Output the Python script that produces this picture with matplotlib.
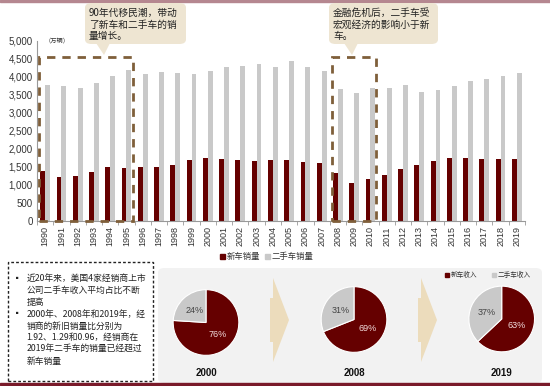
import matplotlib
matplotlib.use("Agg")
import matplotlib.pyplot as plt
import numpy as np
from matplotlib.patches import Rectangle, FancyBboxPatch, Polygon

plt.rcParams['font.family'] = ['Noto Sans CJK SC', 'DejaVu Sans']

years = [str(y) for y in range(1990, 2020)]
new_cars = [1390, 1222, 1233, 1344, 1483, 1455, 1483, 1500, 1547, 1686,
            1733, 1714, 1677, 1658, 1677, 1695, 1639, 1611, 1325, 1047,
            1150, 1269, 1445, 1556, 1649, 1742, 1750, 1714, 1722, 1705]
used_cars = [3761, 3733, 3694, 3816, 4019, 4186, 4083, 4130, 4094, 4075,
             4167, 4269, 4306, 4361, 4260, 4427, 4269, 4158, 3658, 3556,
             3694, 3694, 3769, 3583, 3630, 3733, 3872, 3927, 4028, 4094]
yticks = [0, 500, 1000, 1500, 2000, 2500, 3000, 3500, 4000, 4500, 5000]

pie_years = ['2000', '2008', '2019']
pie_new = [76, 69, 63]
pie_used = [24, 31, 37]

RED = '#650000'
GREY = '#c9c9c9'
BROWN = '#7f5f3a'
BEIGE = '#eee5d2'

W, H = 550, 386
fig = plt.figure(figsize=(W / 100, H / 100), dpi=100)


def fx(x):
    return x / W


def fy(y):
    return 1 - y / H


# main bar chart
ax = fig.add_axes([fx(37), fy(220.7), (525 - 37) / W, (220.7 - 40.7) / H])
x = np.arange(len(years))
ax.bar(x - 0.15, new_cars, width=0.3, color=RED, zorder=2)
ax.bar(x + 0.15, used_cars, width=0.3, color=GREY, zorder=2)
ax.set_xlim(-0.5, len(years) - 0.5)
ax.set_ylim(0, 5000)
ax.set_yticks(yticks)
ax.set_yticklabels([f'{v:,}' for v in yticks], family='Liberation Sans',
                   fontsize=7, color='#333333')
ax.set_xticks(x)
ax.set_xticklabels(years, rotation=90, family='Liberation Sans', fontsize=6.5,
                   color='#333333')
ax.set_xticks(np.arange(-0.5, len(years), 1), minor=True)
ax.tick_params(axis='x', which='major', length=0, pad=4)
ax.tick_params(axis='x', which='minor', length=3, color='#999999')
ax.tick_params(axis='y', length=0, pad=3)
for s in ['top', 'right']:
    ax.spines[s].set_visible(False)
ax.spines['left'].set_color('#999999')
ax.spines['bottom'].set_color('#999999')

# dashed highlight boxes
for x0, x1 in [(-0.36, 5.42), (17.61, 20.32)]:
    ax.add_patch(Rectangle((x0, 0), x1 - x0, 4556, fill=False, edgecolor=BROWN,
                           linewidth=2, linestyle=(0, (3, 2.5)), clip_on=False, zorder=3))

fig.text(fx(45), fy(41), '（万辆）', fontsize=4.5, color='#333333', va='center')

# callouts
def callout(x0, x1, y0, y1, tip, lines):
    fig.add_artist(FancyBboxPatch((fx(x0), fy(y1)), fx(x1) - fx(x0), fy(y0) - fy(y1),
                                  boxstyle='round,pad=0,rounding_size=0.012',
                                  transform=fig.transFigure, facecolor=BEIGE,
                                  edgecolor='none', zorder=5))
    tx, ty = tip
    fig.add_artist(Polygon([(fx(tx - 8), fy(y1 - 1)), (fx(tx + 6), fy(y1 - 1)), (fx(tx), fy(ty))],
                           closed=True, transform=fig.transFigure, facecolor=BEIGE,
                           edgecolor='none', zorder=5))
    for i, line in enumerate(lines):
        fig.text(fx(x0 + 4), fy(12.5 + 12 * i), line, fontsize=7, color='#222222',
                 va='center', zorder=6)


callout(85, 186, 3, 44, (104, 55),
        ['90年代移民潮，带动', '了新车和二手车的销', '量增长。'])
callout(329, 438, 3, 44, (352, 55),
        ['金融危机后，二手车受', '宏观经济的影响小于新', '车。'])

# bar legend
fig.add_artist(Rectangle((fx(220), fy(258.5)), 5 / W, 5 / H, color=RED,
                         transform=fig.transFigure))
fig.text(fx(227), fy(256), '新车销量', fontsize=6, va='center', color='#333333')
fig.add_artist(Rectangle((fx(265), fy(258.5)), 5 / W, 5 / H, color=GREY,
                         transform=fig.transFigure))
fig.text(fx(272), fy(256), '二手车销量', fontsize=6, va='center', color='#333333')

# bottom-left note box
fig.add_artist(Rectangle((fx(8.3), fy(380.7)), (153.3 - 8.3) / W, (380.7 - 261.7) / H,
                         fill=False, edgecolor='#222222', linewidth=1,
                         linestyle=(0, (2, 1.5)), transform=fig.transFigure))
note_lines = [
    (True, '近20年来，美国4家经销商上市'),
    (False, '公司二手车收入平均占比不断'),
    (False, '提高'),
    (True, '2000年、2008年和2019年，经'),
    (False, '销商的新旧销量比分别为'),
    (False, '1.92、1.29和0.96，经销商在'),
    (False, '2019年二手车的销量已经超过'),
    (False, '新车销量'),
]
for i, (bullet, line) in enumerate(note_lines):
    yy = 278.3 + 11.9 * i
    if bullet:
        fig.text(fx(13), fy(yy), '▪', fontsize=6, va='center', color='#222222')
    fig.text(fx(26.5), fy(yy), line, fontsize=6.3, va='center', color='#222222')

# pie panel
fig.add_artist(FancyBboxPatch((fx(158), fy(383)), (542 - 158) / W, (383 - 268) / H,
                              boxstyle='round,pad=0,rounding_size=0.012',
                              transform=fig.transFigure, facecolor='#f2f2f2',
                              edgecolor='none', zorder=0))

pie_centers = [(206, 322.5), (354, 319.5), (501.7, 319)]
r = 33.5
for (cx, cy), yr, pn, pu in zip(pie_centers, pie_years, pie_new, pie_used):
    pax = fig.add_axes([fx(cx - r), fy(cy + r), 2 * r / W, 2 * r / H])
    wedges, texts, autotexts = pax.pie([pn, pu], colors=[RED, GREY], startangle=90,
                                       counterclock=False, autopct='%d%%',
                                       pctdistance=0.5, radius=1,
                                       wedgeprops=dict(edgecolor='white', linewidth=0.8),
                                       textprops=dict(fontsize=6.5, family='Liberation Sans'))
    autotexts[0].set_color('#f3dede')
    autotexts[1].set_color('#444444')
    pax.set_xlim(-1.02, 1.02)
    pax.set_ylim(-1.02, 1.02)
    pax.set_aspect('equal')
    fig.text(fx(cx), fy(373), yr, fontsize=7, fontweight='bold',
             family='Liberation Sans', ha='center', va='center', color='#111111')

# arrows between pies
for ax0 in [270, 418]:
    pts = [(ax0, 298), (ax0 + 3, 298), (ax0 + 3, 278), (ax0 + 19, 320),
           (ax0 + 3, 362), (ax0 + 3, 342), (ax0, 342)]
    fig.add_artist(Polygon([(fx(a), fy(b)) for a, b in pts], closed=True,
                           transform=fig.transFigure, facecolor='#ecdcbc',
                           edgecolor='none'))

# pie legend
fig.add_artist(Rectangle((fx(445), fy(277)), 4 / W, 4 / H, color=RED,
                         transform=fig.transFigure))
fig.text(fx(451), fy(275), '新车收入', fontsize=4.8, va='center', color='#333333')
fig.add_artist(Rectangle((fx(492), fy(277)), 4 / W, 4 / H, color=GREY,
                         transform=fig.transFigure))
fig.text(fx(498), fy(275), '二手车收入', fontsize=4.8, va='center', color='#333333')

# border lines
fig.add_artist(Rectangle((0, fy(1.5)), 1, 1.5 / H, color='#b58790',
                         transform=fig.transFigure))
fig.add_artist(Rectangle((0, fy(384.5)), 1, 1.3 / H, color='#7a1a2a',
                         transform=fig.transFigure))

fig.savefig('out.png', dpi=100)
